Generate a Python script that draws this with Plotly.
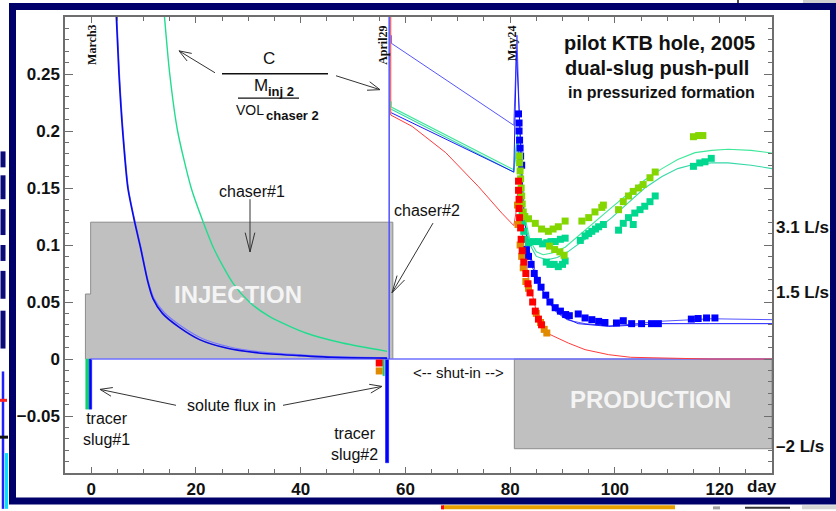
import math
import plotly.graph_objects as go

# ---------------- data ----------------
# x axis: day, y axis: normalized concentration C / (M_inj2 / VOL_chaser2)
x_tick_vals = [0, 20, 40, 60, 80, 100, 120]
x_tick_text = ["0", "20", "40", "60", "80", "100", "120"]
y_tick_vals = [-0.05, 0, 0.05, 0.1, 0.15, 0.2, 0.25]
y_tick_text = ["\u22120.05", "0", "0.05", "0.1", "0.15", "0.2", "0.25"]

# injection phase model curves (chaser #1)
inj_blue_day = [4.8, 5.3, 6.0, 7.0, 8.3, 9.4, 10.8, 11.8, 13.6, 16.9, 20.7, 25.8, 32.0, 39.7, 46.0, 56.5]
inj_blue_c = [0.30, 0.25, 0.20, 0.15, 0.12, 0.098, 0.068, 0.053, 0.040, 0.0275, 0.017, 0.0096, 0.0053, 0.0030, 0.0015, 0.0008]
inj_blue2_day = [4.9, 5.4, 6.1, 7.1, 8.4, 9.5, 10.9, 12.0, 13.9, 17.3, 21.2, 26.5, 32.8, 40.5, 47.0, 56.5]
inj_blue2_c = [0.30, 0.25, 0.20, 0.15, 0.12, 0.098, 0.068, 0.053, 0.041, 0.0285, 0.018, 0.0105, 0.0060, 0.0035, 0.0020, 0.0010]
inj_green_day = [14.0, 15.0, 16.5, 19.1, 21.4, 23.5, 27.0, 30.2, 34.0, 41.0, 48.0, 56.5]
inj_green_c = [0.30, 0.25, 0.20, 0.15, 0.12, 0.096, 0.067, 0.050, 0.0374, 0.0228, 0.014, 0.0067]

# chaser #2 injection marker (vertical line, April 29)
chaser2_day = [56.9, 56.9]
chaser2_c = [0.0, 0.30]

# shut-in + production model curves
red_day = [57.2, 57.2, 61.3, 67.7, 74.0, 78.4, 80.7, 81.1, 81.5, 82.3, 83.5, 85.0, 87.0, 91.1, 94.3, 98.8, 103.0, 110.0, 118.0, 130.0]
red_c = [0.30, 0.214, 0.204, 0.181, 0.151, 0.128, 0.117, 0.128, 0.150, 0.110, 0.070, 0.042, 0.0228, 0.014, 0.0082, 0.0038, 0.0015, 0.0005, 0.0, 0.0]
blue_u_day = [57.3, 57.3, 80.7, 81.3, 81.7, 82.2, 82.8, 83.8, 85.0, 86.0, 87.3, 88.6, 90.0, 91.1, 94.3, 98.8, 103.0, 108.3, 118.4, 130.0]
blue_u_c = [0.284, 0.277, 0.205, 0.284, 0.220, 0.160, 0.120, 0.092, 0.074, 0.062, 0.051, 0.042, 0.037, 0.034, 0.031, 0.029, 0.0305, 0.033, 0.0353, 0.0345]
blue_m_day = [57.3, 80.7, 81.2, 81.6, 82.0, 82.6, 83.3, 84.3, 85.5, 87.0, 88.6, 90.5, 93.0, 98.8, 103.0, 108.3, 118.0, 130.0]
blue_m_c = [0.216, 0.164, 0.270, 0.230, 0.180, 0.130, 0.100, 0.080, 0.066, 0.053, 0.043, 0.036, 0.031, 0.0286, 0.0295, 0.031, 0.031, 0.031]
green1_day = [57.3, 57.3, 80.7, 81.1, 81.4, 82.0, 82.8, 83.8, 85.0, 86.3, 88.0, 90.5, 94.3, 99.4, 105.7, 109.0, 112.0, 115.3, 118.5, 121.6, 126.0, 130.0]
green1_c = [0.226, 0.221, 0.166, 0.185, 0.198, 0.160, 0.125, 0.104, 0.094, 0.0915, 0.093, 0.098, 0.113, 0.133, 0.157, 0.167, 0.175, 0.181, 0.183, 0.184, 0.183, 0.1807]
green2_day = [57.3, 80.7, 81.1, 81.4, 82.0, 82.8, 83.8, 85.0, 87.0, 89.0, 91.0, 94.3, 99.4, 105.7, 109.0, 112.0, 115.3, 118.5, 121.6, 126.0, 130.0]
green2_c = [0.219, 0.164, 0.180, 0.195, 0.155, 0.120, 0.100, 0.090, 0.087, 0.089, 0.094, 0.105, 0.124, 0.150, 0.160, 0.167, 0.171, 0.172, 0.172, 0.170, 0.167]

# measured (squares)
red_sq_day = [55.0, 81.6, 81.6, 81.7, 81.7, 81.8, 82.0, 82.1, 82.3, 82.6, 83.0, 83.4, 83.8, 84.3, 84.8, 85.4, 86.0]
red_sq_c = [-0.0035, 0.156, 0.148, 0.140, 0.132, 0.124, 0.115, 0.105, 0.095, 0.085, 0.075, 0.066, 0.058, 0.050, 0.042, 0.035, 0.030]
orange_sq_day = [55.0, 81.4, 81.5, 81.9, 82.2, 82.5, 83.0, 83.5, 85.0, 85.8, 86.5, 87.0]
orange_sq_c = [-0.0105, 0.135, 0.118, 0.100, 0.090, 0.080, 0.068, 0.062, 0.040, 0.032, 0.026, 0.0228]
blue_sq_day = [81.6, 81.7, 81.7, 81.8, 81.9, 82.0, 82.2, 83.1, 83.5, 84.0, 84.6, 85.2, 85.9, 86.8, 87.6, 88.6, 89.6, 90.6, 91.3,
               93.0, 94.3, 95.6, 96.9, 98.1, 100.3, 101.6, 103.2, 105.1, 107.0, 108.3, 114.6, 115.9, 117.5, 119.1]
blue_sq_c = [0.215, 0.207, 0.200, 0.192, 0.185, 0.178, 0.170, 0.096, 0.090, 0.083, 0.075, 0.069, 0.063, 0.056, 0.050, 0.045, 0.042, 0.039, 0.038,
             0.0395, 0.036, 0.0345, 0.033, 0.032, 0.0316, 0.0336, 0.031, 0.031, 0.031, 0.031, 0.035, 0.0355, 0.036, 0.036]
yg_sq_day = [81.8, 81.8, 81.9, 82.0, 82.1, 82.2, 82.3, 82.5, 82.8, 83.5, 84.8, 86.0, 87.3, 88.2, 89.2, 90.5,
             87.5, 88.5, 89.5, 90.3,
             93.7, 95.0, 96.2, 97.5, 97.8, 100.7, 101.6, 102.6, 103.5, 104.5, 105.4, 106.7, 107.7, 115.0, 116.0, 116.8]
yg_sq_c = [0.178, 0.172, 0.165, 0.158, 0.150, 0.143, 0.136, 0.129, 0.125, 0.123, 0.119, 0.114, 0.112, 0.114, 0.116, 0.121,
           0.099, 0.096, 0.094, 0.091,
           0.121, 0.124, 0.129, 0.133, 0.135, 0.131, 0.138, 0.143, 0.147, 0.150, 0.153, 0.159, 0.164, 0.195, 0.196, 0.196]
teal_sq_day = [82.3, 82.4, 82.6, 82.8, 83.5, 84.4, 85.4, 86.2, 87.0, 87.8, 88.6, 89.6, 90.5,
               86.9, 87.6, 88.4, 89.2, 90.0, 90.5,
               93.4, 94.3, 95.0, 95.6, 96.3, 96.9, 97.8, 100.7, 101.6, 102.6, 103.5, 103.8, 104.8, 105.7, 106.7, 107.7,
               115.0, 116.2, 117.2, 118.4]
teal_sq_c = [0.128, 0.120, 0.112, 0.105, 0.102, 0.103, 0.103, 0.101, 0.102, 0.103, 0.103, 0.105, 0.106,
             0.085, 0.083, 0.083, 0.081, 0.083, 0.086,
             0.104, 0.108, 0.110, 0.112, 0.114, 0.116, 0.118, 0.113, 0.119, 0.124, 0.118, 0.128, 0.131, 0.134, 0.138, 0.143,
             0.169, 0.172, 0.173, 0.176]

# tracer slugs (solute flux in)
slug_x0 = [-1.05, -0.35, 55.7, 56.2]
slug_x1 = [-0.35, 0.10, 56.0, 56.8]
slug_c = [-0.044, -0.044, -0.0147, -0.091]
slug_colors = ["#10d070", "#0000ff", "#10d070", "#0000ff"]

# phase boxes
inj_box_day = [-1.1, -1.1, -0.1, -0.1, 57.6, 57.6]
inj_box_c = [0.0, 0.057, 0.057, 0.12, 0.12, 0.0]
prod_box_day = [80.8, 130.0]
prod_box_c = [-0.0787, 0.0]
zero_line_day = [-0.1, 130.0]
zero_line_c = [0.0, 0.0]

# right-hand flow-rate labels (at their C positions)
rate_labels = ["3.1 L/s", "1.5 L/s", "\u20132 L/s"]
rate_label_c = [0.115, 0.058, -0.077]

# ---------------- layout geometry ----------------
W, H = 836, 511
ML, MR, MT, MB = 65, 64, 17, 36
PW, PH = W - ML - MR, H - MT - MB


def px(x):
    return (x - ML) / PW


def py(y):
    return (H - MB - y) / PH


FONT = "Liberation Sans, Arial, sans-serif"
SERIF = "Liberation Serif, Times New Roman, serif"

fig = go.Figure()

# gray phase boxes
fig.add_trace(go.Scatter(x=inj_box_day, y=inj_box_c, fill="toself", fillcolor="#c0c0c0",
                         mode="lines", line=dict(color="#8c8c8c", width=1), hoverinfo="skip"))
fig.add_trace(go.Scatter(x=[prod_box_day[0], prod_box_day[0], prod_box_day[1], prod_box_day[1], prod_box_day[0]],
                         y=[prod_box_c[1], prod_box_c[0], prod_box_c[0], prod_box_c[1], prod_box_c[1]],
                         fill="toself", fillcolor="#c0c0c0", mode="lines",
                         line=dict(color="#8c8c8c", width=1), hoverinfo="skip"))

# tracer slugs
for x0, x1, c, col in zip(slug_x0, slug_x1, slug_c, slug_colors):
    fig.add_trace(go.Scatter(x=[x0, x0, x1, x1, x0], y=[0, c, c, 0, 0], fill="toself",
                             fillcolor=col, mode="lines", line=dict(color=col, width=0.5), hoverinfo="skip"))


def line(xs, ys, color, width=1.0, shape="linear"):
    fig.add_trace(go.Scatter(x=xs, y=ys, mode="lines", hoverinfo="skip",
                             line=dict(color=color, width=width, shape=shape, smoothing=0.7)))


line(zero_line_day, zero_line_c, "#6f6fff", 1.6)
line(inj_blue2_day, inj_blue2_c, "#7878ff", 1.2, "spline")
line(inj_blue_day, inj_blue_c, "#0a0ae6", 1.6, "spline")
line(inj_green_day, inj_green_c, "#22dc8e", 1.4, "spline")
line(chaser2_day, chaser2_c, "#5050ff", 1.5)
line(red_day, red_c, "#ff3c3c", 1.0)
line(blue_u_day, blue_u_c, "#5555ff", 1.0)
line(green1_day, green1_c, "#3ee89a", 1.1)
line(green2_day, green2_c, "#36d8a8", 1.1)
line(blue_m_day, blue_m_c, "#1a1aff", 1.0)


def squares(xs, ys, color, size=7):
    fig.add_trace(go.Scatter(x=xs, y=ys, mode="markers", hoverinfo="skip",
                             marker=dict(symbol="square", size=size, color=color, line=dict(width=0))))


squares(blue_sq_day, blue_sq_c, "#0000ff")
squares(teal_sq_day, teal_sq_c, "#00d890")
squares(yg_sq_day, yg_sq_c, "#84d600")
squares(orange_sq_day, orange_sq_c, "#e08a00")
squares(red_sq_day, red_sq_c, "#ff0000")

# ---------------- annotations ----------------
ann = []


def text(t, x, y, size=16, color="#111111", bold=False, family=FONT, xanchor="center", angle=0):
    ann.append(dict(text=t, x=px(x), y=py(y), xref="paper", yref="paper", showarrow=False,
                    xanchor=xanchor, yanchor="middle", textangle=angle,
                    font=dict(family=family, size=size, color=color, weight="bold" if bold else "normal")))


text("pilot KTB hole, 2005", 659, 43, 20, bold=True)
text("dual-slug push-pull", 657, 68, 20, bold=True)
text("in pressurized formation", 661, 93, 16, bold=True)

text("C", 269, 59, 17)
text("M", 261, 86, 17)
text("inj 2", 281, 92, 13, bold=True)
text("VOL", 250, 110, 14)
text("chaser 2", 292, 116, 13, bold=True)

text("March3", 92, 45, 12, bold=True, family=SERIF, angle=-90)
text("April29", 383, 46, 12, bold=True, family=SERIF, angle=-90)
text("May24", 512, 43, 12, bold=True, family=SERIF, angle=-90)

text("chaser#1", 252, 192, 16)
text("chaser#2", 427, 211, 16)
text("INJECTION", 238, 296, 24, color="#f4f4f4", bold=True)
text("PRODUCTION", 650, 401, 24, color="#f4f4f4", bold=True)
text("&lt;-- shut-in --&gt;", 458, 374, 15)
text("solute flux in", 231, 407, 16)
text("tracer<br>slug#1", 81, 431, 16, xanchor="left")
text("tracer<br>slug#2", 329, 446, 16, xanchor="left")
text("day", 762, 489, 17, bold=True)

for lab, c in zip(rate_labels, rate_label_c):
    ann.append(dict(text=lab, x=1.0, y=c, xref="paper", yref="y", showarrow=False,
                    xanchor="left", yanchor="middle", xshift=2,
                    font=dict(family=FONT, size=17, color="#111111", weight="bold")))

# ---------------- shapes (arrows, fraction bars, frame) ----------------
shapes = []


def seg_path(x0, y0, x1, y1):
    return f"M {px(x0):.5f} {py(y0):.5f} L {px(x1):.5f} {py(y1):.5f}"


def arrow(x0, y0, x1, y1, head=13, ang=20, color="#333333"):
    a = math.atan2(y0 - y1, x0 - x1)
    pts = []
    for s in (1, -1):
        t = a + s * math.radians(ang)
        pts.append((x1 + head * math.cos(t), y1 + head * math.sin(t)))
    p = seg_path(x0, y0, x1, y1) + " " + seg_path(pts[0][0], pts[0][1], x1, y1) + \
        f" L {px(pts[1][0]):.5f} {py(pts[1][1]):.5f}"
    shapes.append(dict(type="path", xref="paper", yref="paper", path=p,
                       line=dict(color=color, width=1)))


arrow(215, 73, 179, 51)
arrow(336, 76, 380, 90)
arrow(250, 200, 250, 253, head=20, ang=14)
arrow(433, 224, 392, 294, head=18, ang=14)
arrow(176, 407, 100, 391)
arrow(283, 407, 382, 388)

for (x0, x1, yy, w) in [(222, 328, 74, 1.6), (238, 299, 98.5, 1.4)]:
    shapes.append(dict(type="path", xref="paper", yref="paper", path=seg_path(x0, yy, x1, yy),
                       line=dict(color="#111111", width=w)))

# outside clutter (slide behind the framed chart)
for (x0, y0, x1, y1, col, w) in [
    (3, 373, 3, 511, "#2020ff", 2.5), (6.5, 455, 6.5, 511, "#00e0ff", 3),
    (0, 402, 7, 402, "#ff2020", 3), (0, 439, 8, 439, "#111111", 3),
    (3, 152, 3, 168, "#0a0a78", 5), (3, 176, 3, 200, "#0a0a78", 5),
    (3, 210, 3, 236, "#0a0a78", 5), (3, 246, 3, 262, "#0a0a78", 5),
    (3, 272, 3, 300, "#0a0a78", 5), (3, 312, 3, 350, "#0a0a78", 5),
    (443, 509.5, 675, 509.5, "#e8a000", 4), (441, 509.5, 444, 509.5, "#ff0000", 4),
    (713, 510, 720, 510, "#a0a0a0", 3), (802, 509.5, 836, 509.5, "#d4d4d4", 4),
    (803, 1.5, 836, 1.5, "#d0d0d0", 3), (738, 0, 738, 3, "#111111", 1.5),
    (745, 510, 790, 510, "#333333", 2)]:
    shapes.append(dict(type="path", xref="paper", yref="paper", path=seg_path(x0, y0, x1, y1),
                       line=dict(color=col, width=w)))

# navy frame
shapes.append(dict(type="rect", xref="paper", yref="paper",
                   x0=px(12.5), x1=px(833.5), y0=py(503), y1=py(6.5),
                   line=dict(color="#00006a", width=7), fillcolor="rgba(0,0,0,0)"))

axis_common = dict(showgrid=False, zeroline=False, showline=True, linecolor="#6e6e6e", linewidth=1.5,
                   ticks="inside", tickcolor="#6e6e6e", tickwidth=1, mirror="ticks",
                   tickfont=dict(family=FONT, size=17, color="#111111", weight="bold"))

fig.update_layout(
    width=W, height=H,
    margin=dict(l=ML, r=MR, t=MT, b=MB, pad=0),
    paper_bgcolor="white", plot_bgcolor="white",
    showlegend=False,
    xaxis=dict(range=[-5, 130], tickmode="array", tickvals=x_tick_vals, ticktext=x_tick_text, ticklen=6,
               minor=dict(tick0=0, dtick=5, ticklen=4, ticks="inside", tickcolor="#6e6e6e"),
               **axis_common),
    yaxis=dict(range=[-0.1, 0.3], tickmode="array", tickvals=y_tick_vals, ticktext=y_tick_text, ticklen=8,
               minor=dict(tick0=0, dtick=0.01, ticklen=4, ticks="inside", tickcolor="#6e6e6e"),
               **axis_common),
    annotations=ann,
    shapes=shapes,
)

fig.write_html("out.html", config={"displayModeBar": False},
               post_script="document.body.style.margin='0';document.body.style.overflow='hidden';")
